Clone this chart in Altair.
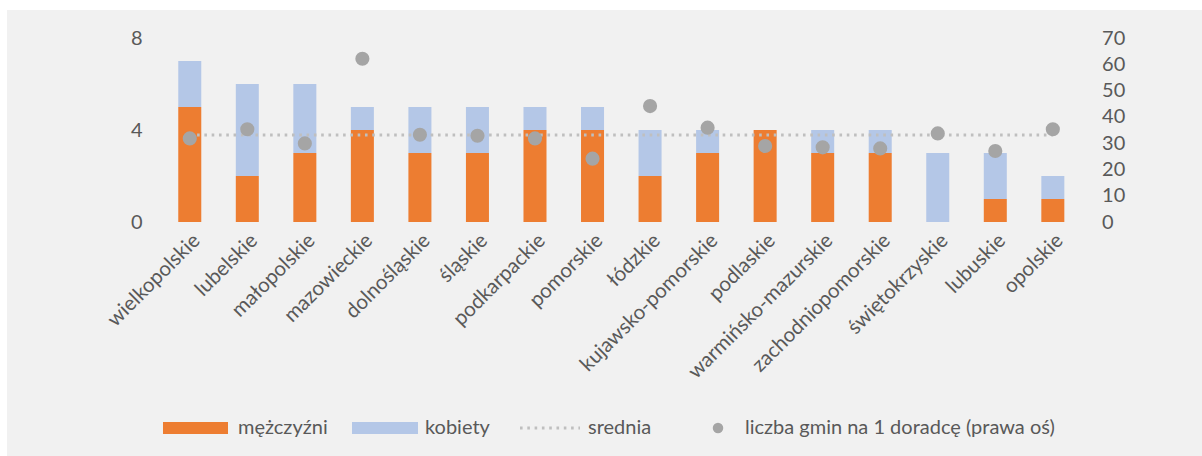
import altair as alt
import pandas as pd

regions = ["wielkopolskie", "lubelskie", "małopolskie", "mazowieckie", "dolnośląskie",
           "śląskie", "podkarpackie", "pomorskie", "łódzkie", "kujawsko-pomorskie",
           "podlaskie", "warmińsko-mazurskie", "zachodniopomorskie", "świętokrzyskie",
           "lubuskie", "opolskie"]
mezczyzni = [5, 2, 3, 4, 3, 3, 4, 4, 2, 3, 4, 3, 3, 0, 1, 1]
kobiety = [2, 4, 3, 1, 2, 2, 1, 1, 2, 1, 0, 1, 1, 3, 2, 1]
gminy = [31.8, 35.3, 29.9, 62.1, 33.2, 32.8, 31.8, 24.1, 44.1, 35.9, 28.9, 28.4, 28.0, 33.7, 27.0, 35.3]
srednia = 33.1

series_names = ["mężczyźni", "kobiety"]
legend_labels = ["mężczyźni", "kobiety", "srednia", "liczba gmin na 1 doradcę (prawa oś)"]

ORANGE = "#ed7d31"
BLUE = "#b4c7e7"
DOT = "#a5a5a5"
LINE = "#bfbfbf"
TXT = "#595959"
FONT = "Lato"
FS = 20

rows = []
for i, r in enumerate(regions):
    rows.append({"region": r, "seria": series_names[0], "val": mezczyzni[i], "ord": 0})
    rows.append({"region": r, "seria": series_names[1], "val": kobiety[i], "ord": 1})
bars_df = pd.DataFrame(rows)
pts_df = pd.DataFrame({"region": regions, "gminy": gminy, "srednia": [srednia] * len(regions)})

xenc = alt.X("region:N", sort=regions, title=None,
             scale=alt.Scale(paddingInner=0.6, paddingOuter=0.3),
             axis=alt.Axis(labelAngle=-45, labelPadding=8, labelLimit=0, labelFontSize=20.5))

bars = alt.Chart(bars_df).mark_bar(strokeWidth=0).encode(
    x=xenc,
    y=alt.Y("val:Q", stack="zero", title=None,
            scale=alt.Scale(domain=[0, 8], nice=False),
            axis=alt.Axis(values=[0, 4, 8], orient="left", labelPadding=19)),
    color=alt.Color("seria:N", scale=alt.Scale(domain=series_names, range=[ORANGE, BLUE]), legend=None),
    order=alt.Order("ord:Q"),
)

raxis = alt.Axis(orient="right", values=list(range(0, 80, 10)), labelPadding=20)
line = alt.Chart(pts_df).mark_line(color=LINE, strokeWidth=2.8, strokeDash=[2.6, 4.7], strokeCap="butt").encode(
    x=alt.X("region:N", sort=regions),
    y=alt.Y("srednia:Q", title=None, scale=alt.Scale(domain=[0, 70], nice=False), axis=raxis),
)
points = alt.Chart(pts_df).mark_circle(color=DOT, opacity=1, size=200).encode(
    x=alt.X("region:N", sort=regions),
    y=alt.Y("gminy:Q", title=None, scale=alt.Scale(domain=[0, 70], nice=False), axis=raxis),
)
right = alt.layer(line, points)

one = alt.Data(values=[{"a": 1}])

# white outer frame strips (left and top)
wl = alt.Chart(one).mark_rect(color="white").encode(x=alt.value(-161), x2=alt.value(-154), y=alt.value(-38), y2=alt.value(418))
wt = alt.Chart(one).mark_rect(color="white").encode(x=alt.value(-161), x2=alt.value(1041), y=alt.value(-38), y2=alt.value(-28))

LY = 390
sw1 = alt.Chart(one).mark_rect(color=ORANGE).encode(x=alt.value(2), x2=alt.value(67), y=alt.value(LY - 6), y2=alt.value(LY + 6))
sw2 = alt.Chart(one).mark_rect(color=BLUE).encode(x=alt.value(191), x2=alt.value(257), y=alt.value(LY - 6), y2=alt.value(LY + 6))
sw3 = alt.Chart(one).mark_rule(color=LINE, strokeWidth=2.8, strokeDash=[2.6, 4.7]).encode(
    x=alt.value(359), x2=alt.value(419), y=alt.value(LY))
sw4 = alt.Chart(one).mark_circle(color=DOT, opacity=1, size=110).encode(x=alt.value(557), y=alt.value(LY))

def lt(xpos, label):
    return alt.Chart(one).mark_text(align="left", baseline="middle", font=FONT, fontSize=FS, color=TXT).encode(
        x=alt.value(xpos), y=alt.value(LY), text=alt.value(label))

legend = [sw1, lt(77, legend_labels[0]), sw2, lt(264, legend_labels[1]), sw3, lt(427, legend_labels[2]),
          sw4, lt(584, legend_labels[3])]

chart = alt.layer(wl, wt, bars, right, *legend).resolve_scale(y="independent").properties(
    width=920.6, height=184,
    padding={"left": 161, "top": 38, "right": 120, "bottom": 234},
    autosize=alt.AutoSizeParams(type="none"),
    background="#f1f1f1",
).configure_view(stroke=None).configure_axis(
    labelFont=FONT, labelFontSize=FS, labelColor=TXT, domain=False, ticks=False, grid=False,
)

chart.save("out.html", embed_options={"renderer": "svg", "actions": False})
